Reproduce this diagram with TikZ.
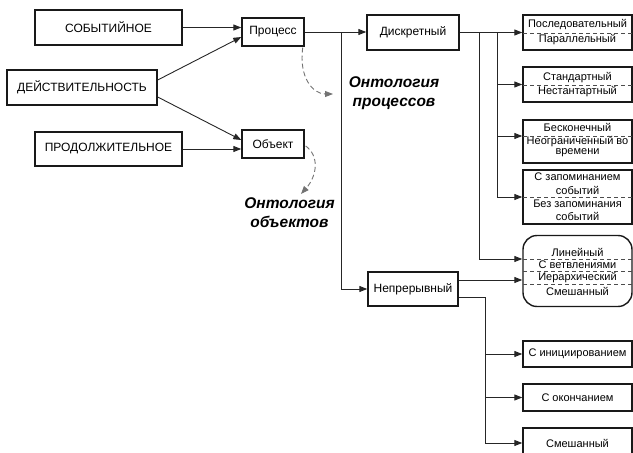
\documentclass[tikz,border=0pt]{standalone}
\usepackage{fontspec}
\setmainfont{Liberation Sans}
\usetikzlibrary{arrows.meta,calc}

\tikzset{
  box/.style={draw=black!90, line width=1.4pt, inner sep=0pt, font=\fontsize{12}{14}\selectfont},
  rbox/.style={box, minimum width=109pt, font=\fontsize{11}{12}\selectfont},
  txt/.style={inner sep=0pt, font=\fontsize{11}{12}\selectfont},
  sep/.style={draw=black!70, line width=0.7pt, dash pattern=on 4pt off 3pt},
  conn/.style={draw=black!85, line width=0.9pt, -{Triangle[length=8pt,width=6pt]}},
  onto/.style={inner sep=0pt, align=center, font=\fontsize{15.5}{19}\selectfont\bfseries\itshape},
  ontarr/.style={draw=black!55, line width=0.9pt, dash pattern=on 5pt off 3pt, -{Triangle[length=8pt,width=6pt]}}
}

\begin{document}
\begin{tikzpicture}[x=1pt, y=-1pt]
			%%%%% START %%%%%
			\useasboundingbox (0,0) rectangle (633,453);
			\clip (0,0) rectangle (633,453);
			
			\node[box, minimum width=147pt, minimum height=35pt] (sob) at (108.5,27.5) {СОБЫТИЙНОЕ};
			\node[box, minimum width=150pt, minimum height=35pt] (deist) at (82,87.5) {ДЕЙСТВИТЕЛЬНОСТЬ};
			\node[box, minimum width=147pt, minimum height=34pt] (prod) at (108.5,149) {ПРОДОЛЖИТЕЛЬНОЕ};
			
			\node[box, minimum width=62pt, minimum height=28pt] (proc) at (273,32) {Процесс};
			\node[box, minimum width=62pt, minimum height=28pt] (obj) at (273,144) {Объект};
			
			\node[box, minimum width=92pt, minimum height=35pt] (disk) at (413,32.5) {Дискретный};
			\node[box, minimum width=90pt, minimum height=34pt] (nepr) at (413,289) {Непрерывный};
			
			%% right column
			\node[rbox, minimum height=35pt] (posl) at (577.5,32.5) {};
			\node[txt] (posl1) at (577.5,25) {Последовательный};
			\node[txt] (posl2) at (577.5,40) {Параллельный};
			\draw[sep] (523,33) -- (632,33);
			
			\node[rbox, minimum height=35pt] (stand) at (577.5,84.5) {};
			\node[txt] (stand1) at (577.5,78) {Стандартный};
			\node[txt] (stand2) at (577.5,92) {Нестантартный};
			\draw[sep] (523,85) -- (632,85);
			
			\node[rbox, minimum height=43pt] (besk) at (577.5,141.5) {};
			\node[txt] (besk1) at (577.5,127) {Бесконечный};
			\node[txt] (besk2) at (577.5,141.5) {Неограниченный во};
			\node[txt] (besk3) at (577.5,153) {времени};
			\draw[sep] (523,136) -- (632,136);
			
			\node[rbox, minimum height=54pt] (zapom) at (577.5,197) {};
			\node[txt] (zapom1) at (577.5,177) {С запоминанием};
			\node[txt] (zapom2) at (577.5,190) {событий};
			\node[txt] (zapom3) at (577.5,204) {Без запоминания};
			\node[txt] (zapom4) at (577.5,216) {событий};
			\draw[sep] (523,197) -- (632,197);
			
			\node[rbox, minimum height=71pt, rounded corners=14pt] (lin) at (577.5,271) {};
			\node[txt] (lin1) at (577.5,252) {Линейный};
			\node[txt] (lin2) at (577.5,264.5) {С ветвлениями};
			\node[txt] (lin3) at (577.5,277.5) {Иерархический};
			\node[txt] (lin4) at (577.5,291) {Смешанный};
			\draw[sep] (523,259) -- (633,259);
			\draw[sep] (523,271) -- (633,271);
			\draw[sep] (523,284) -- (633,284);
			
			\node[rbox, minimum height=26pt] (init) at (577.5,354) {С инициированием};
			\node[rbox, minimum height=27pt] (okon) at (577.5,397.5) {С окончанием};
			\node[rbox, minimum height=30pt] (smesh) at (577.5,443) {Смешанный};
			
			%% connectors
			\draw[conn] (sob.east) -- (sob.east -| proc.west);
			\draw[conn] ([yshift=7.5pt]deist.east) -- ([yshift=-5pt]proc.west);
			\draw[conn] ([yshift=-9.5pt]deist.east) -- ([yshift=4pt]obj.west);
			\draw[conn] (prod.east) -- (prod.east -| obj.west);
			
			\draw[conn] (proc.east) -- (proc.east -| disk.west);
			\draw[conn] (proc.east) -| ([xshift=-26pt]nepr.west) -- (nepr.west);
			
			\draw[conn] (disk.east) -- (disk.east -| posl.west);
			\draw[conn] (disk.east) -- ++(38,0) |- (stand.west);
			\draw[conn] (disk.east) -- ++(38,0) |- ($(besk.west)+(0,-5.5)$);
			\draw[conn] (disk.east) -- ++(38,0) |- (zapom.west);
			\draw[conn] (disk.east) -- ++(20,0) |- ($(lin.west)+(0,-12)$);
			
			\draw[conn] ($(nepr.east)+(0,-9)$) -- ($(lin.west)+(0,9)$);
			\draw[conn] ($(nepr.east)+(0,8)$) -- ++(27,0) |- (init.west);
			\draw[conn] ($(nepr.east)+(0,8)$) -- ++(27,0) |- (okon.west);
			\draw[conn] ($(nepr.east)+(0,8)$) -- ++(27,0) |- (smesh.west);
			
			%% ontologies
			\coordinate (ontP) at (333,94);
			\coordinate (ontO) at (301,194);
			\draw[ontarr] ($(proc.south east)+(-2,1)$) .. controls +(-4,30) and +(-20,0) .. (ontP);
			\draw[ontarr] ($(obj.east)+(1,2)$) .. controls +(14,10) and +(16,-18) .. (ontO);
			\node[onto] (ontPt) at (394,93) {Онтология\\процессов};
			\node[onto] (ontOt) at (289.5,213) {Онтология\\объектов};
			
			%%%%% END %%%%%
		\end{tikzpicture}
\end{document}
